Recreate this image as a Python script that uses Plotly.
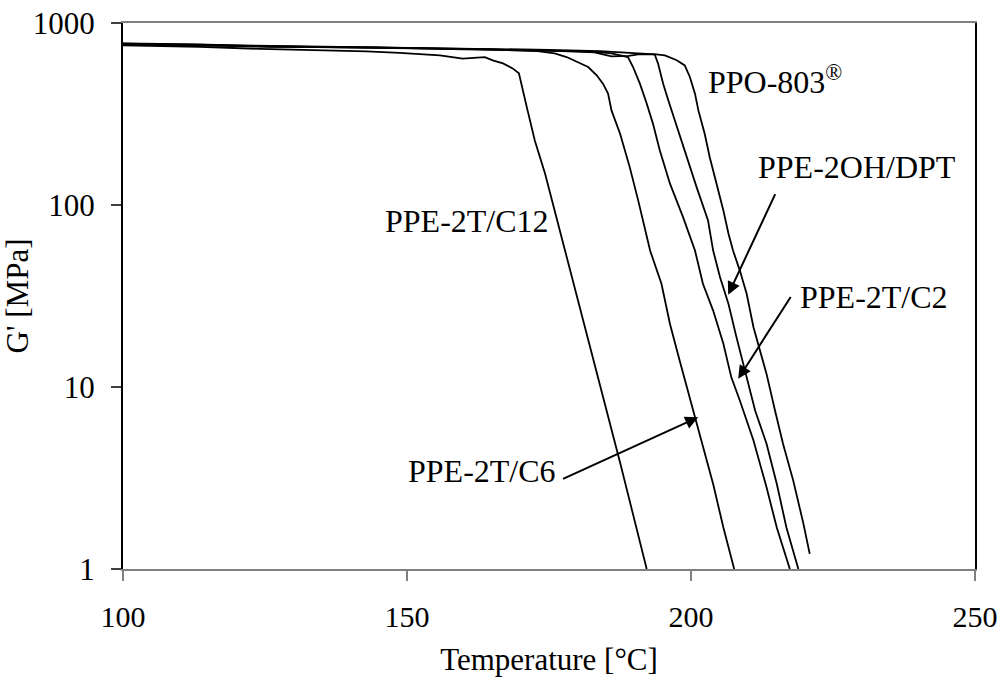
import plotly.graph_objects as go

# ---- data (Temperature [°C], G' [MPa]) ----
t_c12 = [100, 113.5, 124.1, 138.2, 142.9, 148.7, 155.8, 159.8, 162.5, 163.7, 165.1, 166.9,
         168.6, 169.7, 171.1, 172.5, 174.3, 176.0, 176.9, 182.0, 187.5, 192.2]
g_c12 = [754, 740, 721, 708, 698, 686, 664, 637, 644, 650, 623, 600,
         563, 529, 344, 226, 149, 93, 72.5, 17.4, 3.86, 1.0]

t_c6 = [100, 113.5, 124, 140, 155, 165, 173, 176, 178.1, 179.85, 181.9, 183.4, 184.5, 185.4,
        186.0, 187.5, 189.2, 190.7, 192.8, 194.8, 196.3, 198.0, 200.4, 201.6, 203.9, 205.7, 207.6]
g_c6 = [773, 764, 745, 735, 726, 716, 700, 681, 650, 611, 573, 516, 464, 409,
        331, 247, 162, 106, 56.2, 36.9, 22.2, 14.0, 7.41, 5.54, 2.93, 1.69, 1.0]

t_c2 = [100, 117, 126, 145, 160, 175, 182, 186, 187.5, 188.9, 189.8, 191.0, 192.2, 193.3,
        194.5, 196.3, 198.6, 200.7, 202.1, 203.9, 205.7, 207.1, 208.6, 211.0, 213.3, 215.1, 217.4]
g_c2 = [764, 754, 740, 735, 716, 708, 698, 681, 664, 650, 573, 464, 361, 280,
        200, 131, 85.8, 56.2, 36.9, 26.3, 17.3, 11.3, 8.43, 5.08, 2.81, 1.69, 1.0]

t_oh = [100, 120, 140, 160, 175, 184, 188, 191, 193.6, 194.2, 195.1, 196.0, 197.5, 199.2,
        201.0, 203.0, 203.9, 205.1, 206.6, 208.0, 209.2, 210.4, 211.3, 213.3, 215.1, 216.8, 218.9]
g_oh = [770, 755, 740, 726, 712, 700, 690, 681, 673, 598, 464, 376, 268, 183,
        125, 82.2, 56.2, 40.2, 28.6, 18.8, 13.4, 9.58, 7.41, 4.88, 2.94, 1.69, 1.0]

t_ppo = [100, 120, 140, 160, 175, 183, 186, 189, 191, 193.9, 195.4, 197.5, 198.9, 199.8,
         200.7, 201.3, 202.4, 203.3, 204.5, 205.7, 206.6, 207.4, 208.6, 209.8, 211.0, 212.1,
         213.3, 214.8, 216.2, 218.0, 219.8, 220.9]
g_ppo = [760, 750, 735, 720, 705, 690, 655, 660, 675, 673, 664, 624, 585, 505,
         409, 331, 247, 183, 131, 93.3, 69.5, 56.2, 43.6, 32.5, 21.3, 15.9,
         11.8, 7.41, 4.88, 3.06, 1.77, 1.21]

series_names = ["PPE-2T/C12", "PPE-2T/C6", "PPE-2T/C2", "PPE-2OH/DPT", "PPO-803"]
x_ticks = [100, 150, 200, 250]
y_ticks = [1, 10, 100, 1000]
y_ticktext = ["1", "10", "100", "1000"]

FONT = "Liberation Serif, Times New Roman, serif"

fig = go.Figure()
for name, t, g in zip(series_names,
                      [t_c12, t_c6, t_c2, t_oh, t_ppo],
                      [g_c12, g_c6, g_c2, g_oh, g_ppo]):
    fig.add_trace(go.Scatter(x=t, y=g, mode="lines", name=name,
                             line=dict(color="black", width=1.8),
                             showlegend=False, hoverinfo="skip"))

# text labels (data coords; y in log10 units)
labels = [
    dict(text="PPO-803<sup>®</sup>", x=202.6, y=2.685, xanchor="left"),
    dict(text="PPE-2OH/DPT", x=211.4, y=2.207, xanchor="left"),
    dict(text="PPE-2T/C2", x=218.8, y=1.492, xanchor="left"),
    dict(text="PPE-2T/C12", x=175.3, y=1.910, xanchor="right"),
    dict(text="PPE-2T/C6", x=176.5, y=0.541, xanchor="right"),
]
for lb in labels:
    fig.add_annotation(text=lb["text"], x=lb["x"], y=lb["y"], xref="x", yref="y",
                       xanchor=lb["xanchor"], yanchor="middle", showarrow=False,
                       font=dict(family=FONT, size=32, color="black"))

# arrows: (tip_x, tip_logy, tail_x, tail_logy)
arrows = [
    (206.55, 1.507, 214.95, 2.068),
    (208.31, 1.045, 217.72, 1.503),
    (201.27, 0.834, 177.21, 0.491),
]
for tx, ty, ax_, ay_ in arrows:
    fig.add_annotation(text="", x=tx, y=ty, xref="x", yref="y",
                       ax=ax_, ay=ay_, axref="x", ayref="y",
                       showarrow=True, arrowhead=2, arrowsize=1.3, arrowwidth=2,
                       arrowcolor="black")

fig.update_layout(
    width=999, height=677,
    margin=dict(l=123, r=24, t=23, b=108),
    paper_bgcolor="white", plot_bgcolor="white",
    font=dict(family=FONT, size=31, color="black"),
    xaxis=dict(range=[100, 250], tickvals=x_ticks, ticks="outside", ticklen=10,
               tickcolor="#808080", tickwidth=1.5, showline=True, linecolor="#808080",
               linewidth=2, mirror=True, showgrid=False, zeroline=False,
               ticklabelstandoff=10, automargin=False, ticklabeloverflow="allow",
               tickfont=dict(size=30),
               title=dict(text="Temperature [°C]", font=dict(size=31), standoff=29)),
    yaxis=dict(type="log", range=[0, 3], tickvals=y_ticks, ticktext=y_ticktext,
               ticks="outside", ticklen=10, tickcolor="#404040", tickwidth=1.5,
               showline=True, linecolor="black", linewidth=2, mirror=True,
               showgrid=False, zeroline=False, ticklabelstandoff=10, automargin=False,
               ticklabeloverflow="allow",
               title=dict(text="G' [MPa]", font=dict(size=31), standoff=16)),
)

# remove the browser's default 8 px body margin so the 999x677 figure fills the window
fig.write_html("out.html", config={"displayModeBar": False},
               post_script="document.body.style.margin='0';document.body.style.overflow='hidden';")
